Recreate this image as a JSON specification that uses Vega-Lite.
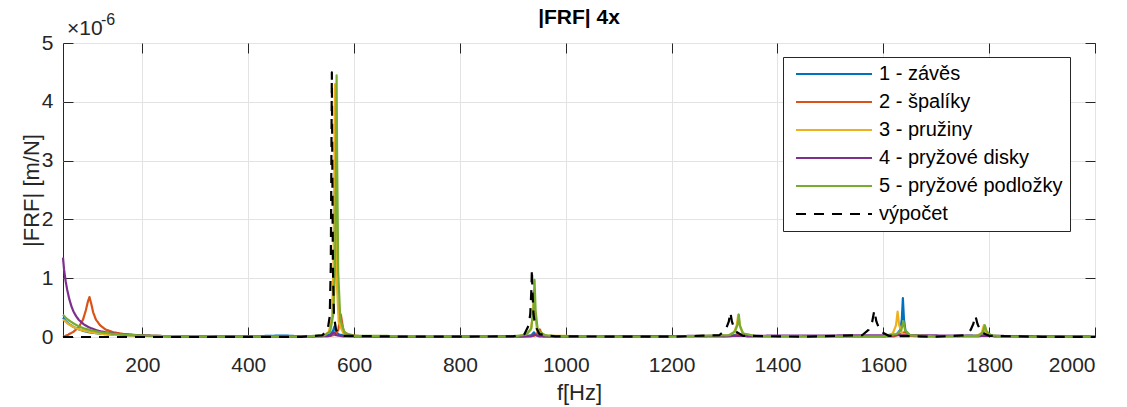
{
  "$schema": "https://vega.github.io/schema/vega-lite/v6.json",
  "autosize": "none",
  "width": 1032,
  "height": 294,
  "padding": {"left": 63, "top": 43, "right": 32, "bottom": 70},
  "background": "white",
  "title": {"text": "|FRF| 4x", "fontSize": 21, "fontWeight": "bold", "font": "Liberation Sans", "color": "#000000", "anchor": "middle", "frame": "group", "baseline": "alphabetic", "offset": -33},
  "config": {
    "font": "Liberation Sans",
    "view": {"stroke": "#262626", "strokeWidth": 1},
    "axis": {"labelFont": "Liberation Sans", "labelFontSize": 21, "labelColor": "#262626", "titleFont": "Liberation Sans", "titleColor": "#262626", "titleFontSize": 22, "titleFontWeight": "normal", "gridColor": "#e3e3e3", "gridWidth": 1, "tickColor": "#262626", "tickSize": -10, "tickWidth": 1, "domain": false}
  },
  "resolve": {"axis": {"x": "independent", "y": "independent"}},
  "layer": [
    {
      "data": {"values": [
        {"s": "1 - závěs", "f": 50, "a": 0.33}, {"s": "1 - závěs", "f": 55, "a": 0.27}, {"s": "1 - závěs", "f": 60, "a": 0.23}, {"s": "1 - závěs", "f": 70, "a": 0.17}, {"s": "1 - závěs", "f": 80, "a": 0.13}, {"s": "1 - závěs", "f": 90, "a": 0.1}, {"s": "1 - závěs", "f": 100, "a": 0.08}, {"s": "1 - závěs", "f": 120, "a": 0.055}, {"s": "1 - závěs", "f": 150, "a": 0.035}, {"s": "1 - závěs", "f": 200, "a": 0.02}, {"s": "1 - závěs", "f": 260, "a": 0.01}, {"s": "1 - závěs", "f": 400, "a": 0.008}, {"s": "1 - závěs", "f": 440, "a": 0.02}, {"s": "1 - závěs", "f": 470, "a": 0.025}, {"s": "1 - závěs", "f": 500, "a": 0.01}, {"s": "1 - závěs", "f": 545, "a": 0.02}, {"s": "1 - závěs", "f": 555, "a": 0.05}, {"s": "1 - závěs", "f": 560, "a": 0.1}, {"s": "1 - závěs", "f": 563, "a": 0.18}, {"s": "1 - závěs", "f": 566, "a": 0.08}, {"s": "1 - závěs", "f": 572, "a": 0.04}, {"s": "1 - závěs", "f": 590, "a": 0.015}, {"s": "1 - závěs", "f": 700, "a": 0.008}, {"s": "1 - závěs", "f": 920, "a": 0.01}, {"s": "1 - závěs", "f": 935, "a": 0.03}, {"s": "1 - závěs", "f": 940, "a": 0.08}, {"s": "1 - závěs", "f": 944, "a": 0.03}, {"s": "1 - závěs", "f": 960, "a": 0.01}, {"s": "1 - závěs", "f": 1200, "a": 0.008}, {"s": "1 - závěs", "f": 1310, "a": 0.015}, {"s": "1 - závěs", "f": 1322, "a": 0.04}, {"s": "1 - závěs", "f": 1326, "a": 0.06}, {"s": "1 - závěs", "f": 1330, "a": 0.03}, {"s": "1 - závěs", "f": 1345, "a": 0.01}, {"s": "1 - závěs", "f": 1600, "a": 0.01}, {"s": "1 - závěs", "f": 1625, "a": 0.04}, {"s": "1 - závěs", "f": 1632, "a": 0.12}, {"s": "1 - závěs", "f": 1635, "a": 0.3}, {"s": "1 - závěs", "f": 1637, "a": 0.66}, {"s": "1 - závěs", "f": 1639, "a": 0.3}, {"s": "1 - závěs", "f": 1642, "a": 0.1}, {"s": "1 - závěs", "f": 1650, "a": 0.03}, {"s": "1 - závěs", "f": 1680, "a": 0.01}, {"s": "1 - závěs", "f": 1780, "a": 0.02}, {"s": "1 - závěs", "f": 1790, "a": 0.08}, {"s": "1 - závěs", "f": 1793, "a": 0.12}, {"s": "1 - závěs", "f": 1796, "a": 0.05}, {"s": "1 - závěs", "f": 1810, "a": 0.01}, {"s": "1 - závěs", "f": 2000, "a": 0.005},
        {"s": "2 - špalíky", "f": 50, "a": 0.0}, {"s": "2 - špalíky", "f": 55, "a": 0.02}, {"s": "2 - špalíky", "f": 60, "a": 0.04}, {"s": "2 - špalíky", "f": 70, "a": 0.09}, {"s": "2 - špalíky", "f": 80, "a": 0.17}, {"s": "2 - špalíky", "f": 88, "a": 0.3}, {"s": "2 - špalíky", "f": 93, "a": 0.45}, {"s": "2 - špalíky", "f": 97, "a": 0.6}, {"s": "2 - špalíky", "f": 100, "a": 0.68}, {"s": "2 - špalíky", "f": 103, "a": 0.58}, {"s": "2 - špalíky", "f": 107, "a": 0.42}, {"s": "2 - špalíky", "f": 112, "a": 0.3}, {"s": "2 - špalíky", "f": 120, "a": 0.2}, {"s": "2 - špalíky", "f": 130, "a": 0.13}, {"s": "2 - špalíky", "f": 145, "a": 0.08}, {"s": "2 - špalíky", "f": 165, "a": 0.05}, {"s": "2 - špalíky", "f": 200, "a": 0.025}, {"s": "2 - špalíky", "f": 250, "a": 0.012}, {"s": "2 - špalíky", "f": 400, "a": 0.006}, {"s": "2 - špalíky", "f": 550, "a": 0.01}, {"s": "2 - špalíky", "f": 565, "a": 0.04}, {"s": "2 - špalíky", "f": 570, "a": 0.12}, {"s": "2 - špalíky", "f": 573, "a": 0.28}, {"s": "2 - špalíky", "f": 575, "a": 0.38}, {"s": "2 - špalíky", "f": 577, "a": 0.27}, {"s": "2 - špalíky", "f": 580, "a": 0.1}, {"s": "2 - špalíky", "f": 590, "a": 0.03}, {"s": "2 - špalíky", "f": 620, "a": 0.01}, {"s": "2 - špalíky", "f": 900, "a": 0.006}, {"s": "2 - špalíky", "f": 940, "a": 0.02}, {"s": "2 - špalíky", "f": 948, "a": 0.08}, {"s": "2 - špalíky", "f": 951, "a": 0.13}, {"s": "2 - špalíky", "f": 954, "a": 0.06}, {"s": "2 - špalíky", "f": 965, "a": 0.015}, {"s": "2 - špalíky", "f": 1300, "a": 0.008}, {"s": "2 - špalíky", "f": 1320, "a": 0.02}, {"s": "2 - špalíky", "f": 1330, "a": 0.05}, {"s": "2 - špalíky", "f": 1340, "a": 0.015}, {"s": "2 - špalíky", "f": 1620, "a": 0.01}, {"s": "2 - špalíky", "f": 1640, "a": 0.08}, {"s": "2 - špalíky", "f": 1650, "a": 0.02}, {"s": "2 - špalíky", "f": 1780, "a": 0.01}, {"s": "2 - špalíky", "f": 1797, "a": 0.04}, {"s": "2 - špalíky", "f": 1810, "a": 0.01}, {"s": "2 - špalíky", "f": 2000, "a": 0.005},
        {"s": "3 - pružiny", "f": 50, "a": 0.3}, {"s": "3 - pružiny", "f": 55, "a": 0.26}, {"s": "3 - pružiny", "f": 60, "a": 0.22}, {"s": "3 - pružiny", "f": 70, "a": 0.17}, {"s": "3 - pružiny", "f": 80, "a": 0.13}, {"s": "3 - pružiny", "f": 100, "a": 0.085}, {"s": "3 - pružiny", "f": 120, "a": 0.055}, {"s": "3 - pružiny", "f": 150, "a": 0.035}, {"s": "3 - pružiny", "f": 200, "a": 0.018}, {"s": "3 - pružiny", "f": 260, "a": 0.01}, {"s": "3 - pružiny", "f": 500, "a": 0.006}, {"s": "3 - pružiny", "f": 540, "a": 0.02}, {"s": "3 - pružiny", "f": 552, "a": 0.08}, {"s": "3 - pružiny", "f": 558, "a": 0.3}, {"s": "3 - pružiny", "f": 561, "a": 1.2}, {"s": "3 - pružiny", "f": 563, "a": 3.0}, {"s": "3 - pružiny", "f": 564, "a": 4.3}, {"s": "3 - pružiny", "f": 565, "a": 3.0}, {"s": "3 - pružiny", "f": 567, "a": 1.0}, {"s": "3 - pružiny", "f": 571, "a": 0.25}, {"s": "3 - pružiny", "f": 580, "a": 0.06}, {"s": "3 - pružiny", "f": 600, "a": 0.015}, {"s": "3 - pružiny", "f": 900, "a": 0.006}, {"s": "3 - pružiny", "f": 925, "a": 0.03}, {"s": "3 - pružiny", "f": 934, "a": 0.12}, {"s": "3 - pružiny", "f": 938, "a": 0.4}, {"s": "3 - pružiny", "f": 940, "a": 0.72}, {"s": "3 - pružiny", "f": 942, "a": 0.35}, {"s": "3 - pružiny", "f": 946, "a": 0.1}, {"s": "3 - pružiny", "f": 960, "a": 0.02}, {"s": "3 - pružiny", "f": 1200, "a": 0.006}, {"s": "3 - pružiny", "f": 1305, "a": 0.02}, {"s": "3 - pružiny", "f": 1318, "a": 0.08}, {"s": "3 - pružiny", "f": 1323, "a": 0.2}, {"s": "3 - pružiny", "f": 1326, "a": 0.38}, {"s": "3 - pružiny", "f": 1329, "a": 0.18}, {"s": "3 - pružiny", "f": 1335, "a": 0.05}, {"s": "3 - pružiny", "f": 1360, "a": 0.01}, {"s": "3 - pružiny", "f": 1600, "a": 0.01}, {"s": "3 - pružiny", "f": 1618, "a": 0.06}, {"s": "3 - pružiny", "f": 1624, "a": 0.2}, {"s": "3 - pružiny", "f": 1627, "a": 0.43}, {"s": "3 - pružiny", "f": 1630, "a": 0.2}, {"s": "3 - pružiny", "f": 1636, "a": 0.05}, {"s": "3 - pružiny", "f": 1660, "a": 0.01}, {"s": "3 - pružiny", "f": 1775, "a": 0.015}, {"s": "3 - pružiny", "f": 1786, "a": 0.07}, {"s": "3 - pružiny", "f": 1790, "a": 0.2}, {"s": "3 - pružiny", "f": 1793, "a": 0.08}, {"s": "3 - pružiny", "f": 1805, "a": 0.015}, {"s": "3 - pružiny", "f": 2000, "a": 0.005},
        {"s": "4 - pryžové disky", "f": 50, "a": 1.35}, {"s": "4 - pryžové disky", "f": 52, "a": 1.15}, {"s": "4 - pryžové disky", "f": 55, "a": 0.95}, {"s": "4 - pryžové disky", "f": 58, "a": 0.8}, {"s": "4 - pryžové disky", "f": 62, "a": 0.64}, {"s": "4 - pryžové disky", "f": 66, "a": 0.52}, {"s": "4 - pryžové disky", "f": 70, "a": 0.43}, {"s": "4 - pryžové disky", "f": 75, "a": 0.35}, {"s": "4 - pryžové disky", "f": 80, "a": 0.29}, {"s": "4 - pryžové disky", "f": 90, "a": 0.21}, {"s": "4 - pryžové disky", "f": 100, "a": 0.16}, {"s": "4 - pryžové disky", "f": 115, "a": 0.11}, {"s": "4 - pryžové disky", "f": 130, "a": 0.08}, {"s": "4 - pryžové disky", "f": 150, "a": 0.055}, {"s": "4 - pryžové disky", "f": 180, "a": 0.035}, {"s": "4 - pryžové disky", "f": 220, "a": 0.02}, {"s": "4 - pryžové disky", "f": 280, "a": 0.01}, {"s": "4 - pryžové disky", "f": 500, "a": 0.006}, {"s": "4 - pryžové disky", "f": 555, "a": 0.02}, {"s": "4 - pryžové disky", "f": 562, "a": 0.08}, {"s": "4 - pryžové disky", "f": 566, "a": 0.03}, {"s": "4 - pryžové disky", "f": 580, "a": 0.01}, {"s": "4 - pryžové disky", "f": 935, "a": 0.01}, {"s": "4 - pryžové disky", "f": 941, "a": 0.04}, {"s": "4 - pryžové disky", "f": 950, "a": 0.01}, {"s": "4 - pryžové disky", "f": 1325, "a": 0.02}, {"s": "4 - pryžové disky", "f": 1640, "a": 0.03}, {"s": "4 - pryžové disky", "f": 1795, "a": 0.02}, {"s": "4 - pryžové disky", "f": 2000, "a": 0.004},
        {"s": "5 - pryžové podložky", "f": 50, "a": 0.38}, {"s": "5 - pryžové podložky", "f": 55, "a": 0.33}, {"s": "5 - pryžové podložky", "f": 60, "a": 0.29}, {"s": "5 - pryžové podložky", "f": 65, "a": 0.26}, {"s": "5 - pryžové podložky", "f": 70, "a": 0.23}, {"s": "5 - pryžové podložky", "f": 80, "a": 0.18}, {"s": "5 - pryžové podložky", "f": 90, "a": 0.145}, {"s": "5 - pryžové podložky", "f": 100, "a": 0.12}, {"s": "5 - pryžové podložky", "f": 120, "a": 0.08}, {"s": "5 - pryžové podložky", "f": 150, "a": 0.05}, {"s": "5 - pryžové podložky", "f": 180, "a": 0.032}, {"s": "5 - pryžové podložky", "f": 220, "a": 0.02}, {"s": "5 - pryžové podložky", "f": 280, "a": 0.01}, {"s": "5 - pryžové podložky", "f": 500, "a": 0.006}, {"s": "5 - pryžové podložky", "f": 545, "a": 0.03}, {"s": "5 - pryžové podložky", "f": 555, "a": 0.1}, {"s": "5 - pryžové podložky", "f": 561, "a": 0.4}, {"s": "5 - pryžové podložky", "f": 564, "a": 1.2}, {"s": "5 - pryžové podložky", "f": 566, "a": 3.0}, {"s": "5 - pryžové podložky", "f": 567, "a": 4.45}, {"s": "5 - pryžové podložky", "f": 568, "a": 3.0}, {"s": "5 - pryžové podložky", "f": 570, "a": 1.1}, {"s": "5 - pryžové podložky", "f": 574, "a": 0.3}, {"s": "5 - pryžové podložky", "f": 582, "a": 0.07}, {"s": "5 - pryžové podložky", "f": 600, "a": 0.02}, {"s": "5 - pryžové podložky", "f": 900, "a": 0.008}, {"s": "5 - pryžové podložky", "f": 925, "a": 0.04}, {"s": "5 - pryžové podložky", "f": 935, "a": 0.15}, {"s": "5 - pryžové podložky", "f": 939, "a": 0.5}, {"s": "5 - pryžové podložky", "f": 941, "a": 0.97}, {"s": "5 - pryžové podložky", "f": 943, "a": 0.45}, {"s": "5 - pryžové podložky", "f": 947, "a": 0.12}, {"s": "5 - pryžové podložky", "f": 960, "a": 0.03}, {"s": "5 - pryžové podložky", "f": 990, "a": 0.01}, {"s": "5 - pryžové podložky", "f": 1200, "a": 0.008}, {"s": "5 - pryžové podložky", "f": 1310, "a": 0.03}, {"s": "5 - pryžové podložky", "f": 1320, "a": 0.1}, {"s": "5 - pryžové podložky", "f": 1325, "a": 0.22}, {"s": "5 - pryžové podložky", "f": 1327, "a": 0.38}, {"s": "5 - pryžové podložky", "f": 1329, "a": 0.2}, {"s": "5 - pryžové podložky", "f": 1335, "a": 0.06}, {"s": "5 - pryžové podložky", "f": 1360, "a": 0.015}, {"s": "5 - pryžové podložky", "f": 1600, "a": 0.01}, {"s": "5 - pryžové podložky", "f": 1625, "a": 0.05}, {"s": "5 - pryžové podložky", "f": 1634, "a": 0.12}, {"s": "5 - pryžové podložky", "f": 1638, "a": 0.27}, {"s": "5 - pryžové podložky", "f": 1641, "a": 0.12}, {"s": "5 - pryžové podložky", "f": 1650, "a": 0.03}, {"s": "5 - pryžové podložky", "f": 1700, "a": 0.01}, {"s": "5 - pryžové podložky", "f": 1780, "a": 0.02}, {"s": "5 - pryžové podložky", "f": 1788, "a": 0.08}, {"s": "5 - pryžové podložky", "f": 1792, "a": 0.2}, {"s": "5 - pryžové podložky", "f": 1795, "a": 0.1}, {"s": "5 - pryžové podložky", "f": 1803, "a": 0.03}, {"s": "5 - pryžové podložky", "f": 1830, "a": 0.008}, {"s": "5 - pryžové podložky", "f": 2000, "a": 0.004},
        {"s": "výpočet", "f": 50, "a": 0.0}, {"s": "výpočet", "f": 300, "a": 0.0}, {"s": "výpočet", "f": 500, "a": 0.003}, {"s": "výpočet", "f": 540, "a": 0.03}, {"s": "výpočet", "f": 550, "a": 0.12}, {"s": "výpočet", "f": 554, "a": 0.35}, {"s": "výpočet", "f": 556, "a": 1.2}, {"s": "výpočet", "f": 557, "a": 2.8}, {"s": "výpočet", "f": 558, "a": 4.5}, {"s": "výpočet", "f": 559, "a": 2.8}, {"s": "výpočet", "f": 560, "a": 1.2}, {"s": "výpočet", "f": 562, "a": 0.35}, {"s": "výpočet", "f": 566, "a": 0.12}, {"s": "výpočet", "f": 580, "a": 0.02}, {"s": "výpočet", "f": 700, "a": 0.005}, {"s": "výpočet", "f": 900, "a": 0.01}, {"s": "výpočet", "f": 922, "a": 0.05}, {"s": "výpočet", "f": 930, "a": 0.2}, {"s": "výpočet", "f": 933, "a": 0.4}, {"s": "výpočet", "f": 935, "a": 0.8}, {"s": "výpočet", "f": 936, "a": 1.15}, {"s": "výpočet", "f": 937, "a": 0.8}, {"s": "výpočet", "f": 939, "a": 0.4}, {"s": "výpočet", "f": 942, "a": 0.2}, {"s": "výpočet", "f": 950, "a": 0.05}, {"s": "výpočet", "f": 980, "a": 0.01}, {"s": "výpočet", "f": 1200, "a": 0.005}, {"s": "výpočet", "f": 1290, "a": 0.03}, {"s": "výpočet", "f": 1302, "a": 0.12}, {"s": "výpočet", "f": 1308, "a": 0.26}, {"s": "výpočet", "f": 1311, "a": 0.42}, {"s": "výpočet", "f": 1314, "a": 0.26}, {"s": "výpočet", "f": 1320, "a": 0.1}, {"s": "výpočet", "f": 1335, "a": 0.02}, {"s": "výpočet", "f": 1450, "a": 0.005}, {"s": "výpočet", "f": 1560, "a": 0.03}, {"s": "výpočet", "f": 1572, "a": 0.12}, {"s": "výpočet", "f": 1579, "a": 0.26}, {"s": "výpočet", "f": 1583, "a": 0.45}, {"s": "výpočet", "f": 1587, "a": 0.26}, {"s": "výpočet", "f": 1594, "a": 0.1}, {"s": "výpočet", "f": 1610, "a": 0.02}, {"s": "výpočet", "f": 1700, "a": 0.005}, {"s": "výpočet", "f": 1755, "a": 0.03}, {"s": "výpočet", "f": 1765, "a": 0.12}, {"s": "výpočet", "f": 1770, "a": 0.22}, {"s": "výpočet", "f": 1774, "a": 0.36}, {"s": "výpočet", "f": 1778, "a": 0.22}, {"s": "výpočet", "f": 1785, "a": 0.08}, {"s": "výpočet", "f": 1800, "a": 0.02}, {"s": "výpočet", "f": 1900, "a": 0.003}, {"s": "výpočet", "f": 2000, "a": 0.0}
      ]},
      "mark": {"type": "line", "strokeJoin": "round"},
      "encoding": {
        "x": {"field": "f", "type": "quantitative", "scale": {"domain": [50, 2000], "nice": false, "zero": false}, "axis": {"orient": "bottom", "values": [200, 400, 600, 800, 1000, 1200, 1400, 1600, 1800, 2000], "format": "d", "title": "f[Hz]", "grid": true, "labelPadding": 27, "titlePadding": 7}},
        "y": {"field": "a", "type": "quantitative", "scale": {"domain": [0, 5], "nice": false}, "axis": {"orient": "left", "values": [0, 1, 2, 3, 4, 5], "format": "d", "title": "|FRF| [m/N]", "grid": true, "labelPadding": 20, "titlePadding": -2}},
        "color": {"field": "s", "type": "nominal", "scale": {"domain": ["1 - závěs", "2 - špalíky", "3 - pružiny", "4 - pryžové disky", "5 - pryžové podložky", "výpočet"], "range": ["#0072BD", "#D95319", "#EDB120", "#7E2F8E", "#77AC30", "#000000"]}, "legend": {"orient": "none", "legendX": 720, "legendY": 14, "title": null, "symbolType": "M-9.5,0H9.5", "symbolSize": 64, "symbolOffset": 34, "labelOffset": 35, "labelFontSize": 20, "labelFont": "Liberation Sans", "labelColor": "#000000", "labelLimit": 400, "rowPadding": 8, "padding": 7, "strokeColor": "#262626", "fillColor": "white", "symbolStrokeWidth": 2.2}},
        "strokeDash": {"field": "s", "type": "nominal", "scale": {"domain": ["1 - závěs", "2 - špalíky", "3 - pružiny", "4 - pryžové disky", "5 - pryžové podložky", "výpočet"], "range": [[1, 0], [1, 0], [1, 0], [1, 0], [1, 0], [10, 8]]}, "legend": {"orient": "none", "legendX": 720, "legendY": 14, "title": null, "symbolType": "M-9.5,0H9.5", "symbolSize": 64, "symbolOffset": 34, "labelOffset": 35, "labelFontSize": 20, "labelFont": "Liberation Sans", "labelColor": "#000000", "labelLimit": 400, "rowPadding": 8, "padding": 7, "strokeColor": "#262626", "fillColor": "white", "symbolStrokeWidth": 2.2}},
        "strokeWidth": {"field": "s", "type": "ordinal", "scale": {"domain": ["1 - závěs", "2 - špalíky", "3 - pružiny", "4 - pryžové disky", "5 - pryžové podložky", "výpočet"], "range": [2.2, 2.2, 2.2, 2.2, 2.2, 2.8]}, "legend": null}
      }
    },
    {
      "data": {"values": [{"t": "×10"}]},
      "mark": {"type": "text", "align": "left", "baseline": "alphabetic", "dx": 4, "dy": -8, "fontSize": 21, "color": "#262626", "font": "Liberation Sans"},
      "encoding": {
        "text": {"field": "t"},
        "x": {"datum": 50, "type": "quantitative", "axis": {"orient": "top", "values": [200, 400, 600, 800, 1000, 1200, 1400, 1600, 1800, 2000], "labels": false, "title": null, "grid": false}},
        "y": {"datum": 5, "type": "quantitative", "axis": {"orient": "right", "values": [0, 1, 2, 3, 4, 5], "labels": false, "title": null, "grid": false}}
      }
    },
    {
      "data": {"values": [{"t": "-6"}]},
      "mark": {"type": "text", "align": "left", "baseline": "alphabetic", "dx": 38, "dy": -18, "fontSize": 16, "color": "#262626", "font": "Liberation Sans"},
      "encoding": {
        "text": {"field": "t"},
        "x": {"datum": 50, "type": "quantitative", "axis": null},
        "y": {"datum": 5, "type": "quantitative", "axis": null}
      }
    }
  ]
}
